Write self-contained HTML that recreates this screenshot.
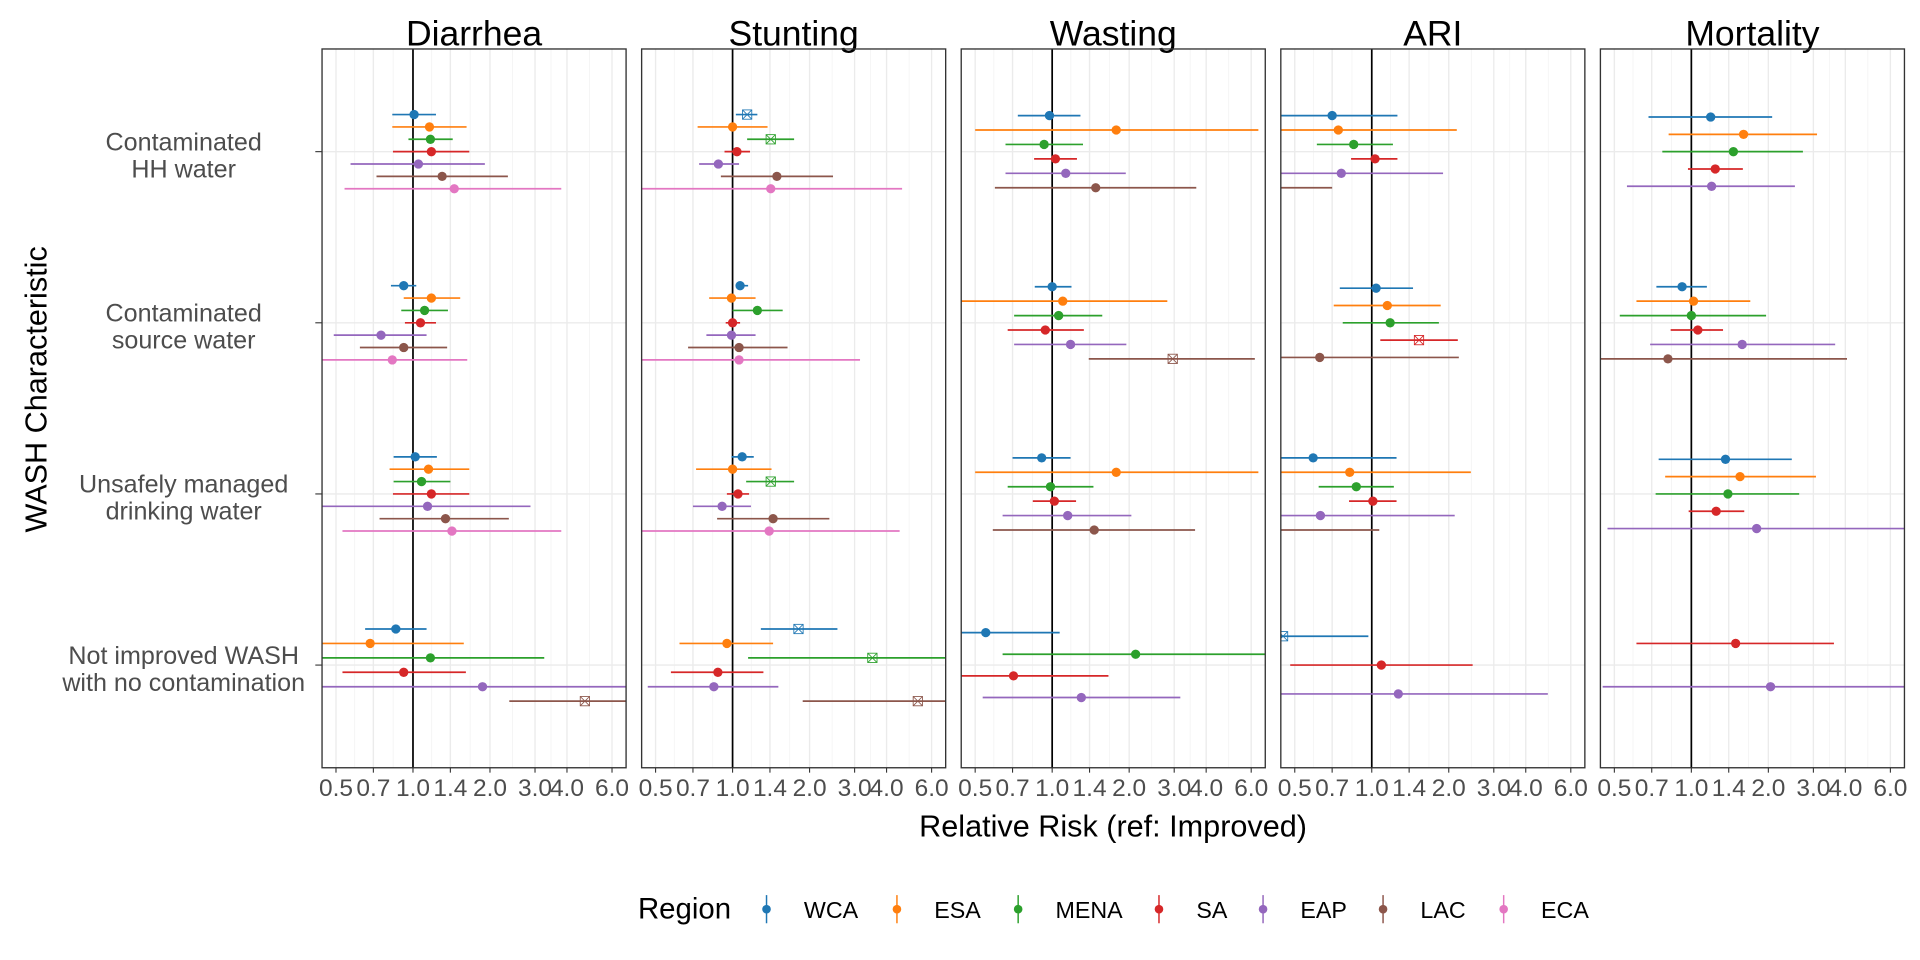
<!DOCTYPE html>
<html><head><meta charset="utf-8"><style>
html,body{margin:0;padding:0;background:#fff;}
svg{display:block;font-family:"Liberation Sans",Arial,sans-serif;}
</style></head><body>
<svg id="chart" width="1920" height="960" viewBox="0 0 1568 784" xmlns="http://www.w3.org/2000/svg">
<g id="layer"></g>
</svg>
<script>
const outcomes = ["Diarrhea","Stunting","Wasting","ARI","Mortality"];
const categories = [["Contaminated","HH water"],["Contaminated","source water"],["Unsafely managed","drinking water"],["Not improved WASH","with no contamination"]];
const regions = ["WCA","ESA","MENA","SA","EAP","LAC","ECA"];
const regionColors = ["#1F77B4","#FF7F0E","#2CA02C","#D62728","#9467BD","#8C564B","#E377C2"];
const tickValues = [0.5,0.7,1.0,1.4,2.0,3.0,4.0,6.0];
const tickLabels = ["0.5","0.7","1.0","1.4","2.0","3.0","4.0","6.0"];
// records: outcome index, category index, region index, estimate, lower, upper, significant flag
const recOutcome = [0,0,0,0,0,0,0, 0,0,0,0,0,0,0, 0,0,0,0,0,0,0, 0,0,0,0,0,0,
 1,1,1,1,1,1,1, 1,1,1,1,1,1,1, 1,1,1,1,1,1,1, 1,1,1,1,1,1,
 2,2,2,2,2,2, 2,2,2,2,2,2, 2,2,2,2,2,2, 2,2,2,2,
 3,3,3,3,3,3, 3,3,3,3,3, 3,3,3,3,3,3, 3,3,3,
 4,4,4,4,4, 4,4,4,4,4,4, 4,4,4,4,4, 4,4];
const recCat = [0,0,0,0,0,0,0, 1,1,1,1,1,1,1, 2,2,2,2,2,2,2, 3,3,3,3,3,3,
 0,0,0,0,0,0,0, 1,1,1,1,1,1,1, 2,2,2,2,2,2,2, 3,3,3,3,3,3,
 0,0,0,0,0,0, 1,1,1,1,1,1, 2,2,2,2,2,2, 3,3,3,3,
 0,0,0,0,0,0, 1,1,1,1,1, 2,2,2,2,2,2, 3,3,3,
 0,0,0,0,0, 1,1,1,1,1,1, 2,2,2,2,2, 3,3];
const recRegion = [0,1,2,3,4,5,6, 0,1,2,3,4,5,6, 0,1,2,3,4,5,6, 0,1,2,3,4,5,
 0,1,2,3,4,5,6, 0,1,2,3,4,5,6, 0,1,2,3,4,5,6, 0,1,2,3,4,5,
 0,1,2,3,4,5, 0,1,2,3,4,5, 0,1,2,3,4,5, 0,2,3,4,
 0,1,2,3,4,5, 0,1,2,3,5, 0,1,2,3,4,5, 0,3,4,
 0,1,2,3,4, 0,1,2,3,4,5, 0,1,2,3,4, 3,4];
const recEst = [1.01,1.16,1.17,1.18,1.05,1.30,1.45, 0.92,1.18,1.11,1.07,0.75,0.92,0.83, 1.02,1.15,1.08,1.18,1.14,1.34,1.42, 0.857,0.68,1.17,0.92,1.87,4.7,
 1.14,1.0,1.41,1.04,0.88,1.49,1.41, 1.07,0.99,1.25,1.0,0.99,1.06,1.06, 1.09,1.0,1.41,1.05,0.91,1.44,1.39, 1.81,0.95,3.52,0.876,0.845,5.3,
 0.976,1.78,0.93,1.03,1.13,1.48, 1.0,1.10,1.06,0.94,1.18,2.96, 0.91,1.78,0.985,1.02,1.15,1.46, 0.55,2.12,0.706,1.30,
 0.70,0.74,0.85,1.03,0.76,0.38, 1.04,1.15,1.18,1.53,0.626, 0.59,0.82,0.87,1.01,0.63,0.38, 0.45,1.09,1.27,
 1.19,1.60,1.46,1.24,1.20, 0.92,1.02,1.0,1.06,1.58,0.81, 1.36,1.55,1.39,1.25,1.80, 1.49,2.04];
const recLo = [0.83,0.83,0.96,0.835,0.57,0.72,0.54, 0.82,0.92,0.90,0.93,0.49,0.62,0.40, 0.84,0.81,0.84,0.835,0.40,0.74,0.53, 0.65,0.40,0.40,0.53,0.40,2.38,
 1.03,0.73,1.14,0.93,0.74,0.90,0.40, 1.03,0.81,1.0,0.94,0.79,0.67,0.40, 0.99,0.72,1.13,0.95,0.70,0.87,0.40, 1.29,0.62,1.15,0.574,0.466,1.88,
 0.734,0.50,0.657,0.85,0.657,0.597, 0.855,0.40,0.71,0.67,0.71,1.39, 0.70,0.50,0.67,0.84,0.64,0.586, 0.40,0.64,0.40,0.535,
 0.40,0.40,0.61,0.83,0.40,0.20, 0.75,0.71,0.77,1.08,0.40, 0.40,0.40,0.62,0.815,0.40,0.20, 0.30,0.48,0.40,
 0.68,0.815,0.77,0.97,0.56, 0.73,0.61,0.525,0.83,0.69,0.40, 0.745,0.79,0.725,0.976,0.47, 0.61,0.45];
const recHi = [1.23,1.62,1.43,1.66,1.91,2.35,3.8, 1.03,1.53,1.37,1.23,1.13,1.36,1.63, 1.24,1.66,1.40,1.66,2.88,2.37,3.8, 1.13,1.58,3.26,1.61,8,8,
 1.25,1.37,1.74,1.17,1.06,2.47,4.6, 1.15,1.23,1.57,1.07,1.23,1.64,3.15, 1.21,1.42,1.74,1.16,1.18,2.39,4.5, 2.57,1.44,8,1.32,1.51,8,
 1.29,6.4,1.32,1.25,1.94,3.66, 1.19,2.82,1.57,1.33,1.95,6.2, 1.18,6.4,1.45,1.24,2.04,3.62, 1.07,8,1.66,3.17,
 1.26,2.15,1.21,1.26,1.90,0.70, 1.45,1.86,1.83,2.17,2.19, 1.25,2.44,1.22,1.25,2.11,1.07, 0.97,2.48,4.88,
 2.07,3.10,2.73,1.59,2.54, 1.15,1.70,1.96,1.33,3.65,4.06, 2.47,3.07,2.64,1.61,8, 3.61,8];
const recSig = [0,0,0,0,0,0,0, 0,0,0,0,0,0,0, 0,0,0,0,0,0,0, 0,0,0,0,0,1,
 1,0,1,0,0,0,0, 0,0,0,0,0,0,0, 0,0,1,0,0,0,0, 1,0,1,0,0,1,
 0,0,0,0,0,0, 0,0,0,0,0,1, 0,0,0,0,0,0, 0,0,0,0,
 0,0,0,0,0,0, 0,0,0,1,0, 0,0,0,0,0,0, 1,0,0,
 0,0,0,0,0, 0,0,0,0,0,0, 0,0,0,0,0, 0,0];

const NS="http://www.w3.org/2000/svg";
const layer=document.getElementById('layer');
function mk(tag,attrs,parent){const e=document.createElementNS(NS,tag);for(const k in attrs)e.setAttribute(k,attrs[k]);(parent||layer).appendChild(e);return e;}

const P0=263, PSTEP=261, PW=248.3, TOP=40, BOT=627;
const DMIN=Math.log(0.441), DMAX=Math.log(6.81);
const catStep=(BOT-TOP)/4.2;
function xScale(k,v){return P0+k*PSTEP+(Math.log(v)-DMIN)/(DMAX-DMIN)*PW;}
function yScale(c){return TOP+(0.6+c)*catStep;}
const DODGE=70.7;

const defs=mk('defs',{});
outcomes.forEach((o,k)=>{
  const cp=mk('clipPath',{id:'clip'+k},defs);
  mk('rect',{x:P0+k*PSTEP,y:TOP,width:PW,height:BOT-TOP},cp);
});

outcomes.forEach((o,k)=>{
  const L=P0+k*PSTEP;
  const g=mk('g',{});
  
  
  for(let i=0;i<tickValues.length-1;i++){
    const mv=Math.sqrt(tickValues[i]*tickValues[i+1]);
    const x=xScale(k,mv);
    const ln=mk('line',{x1:x,x2:x,y1:TOP,y2:BOT,stroke:'#F2F2F2','stroke-width':0.6},g);
    
    
  }
  tickValues.forEach((t,i)=>{
    const x=xScale(k,t);
    const ln=mk('line',{x1:x,x2:x,y1:TOP,y2:BOT,stroke:'#EBEBEB','stroke-width':1.1},g);
    
    
    const tk=mk('line',{x1:x,x2:x,y1:BOT,y2:BOT+4,stroke:'#333','stroke-width':0.9},g);
    
    
    const tl=mk('text',{x:x,y:BOT+23,'text-anchor':'middle','font-size':20,fill:'#4D4D4D'},g);
    
    
    tl.textContent=tickLabels[i];
  });
  categories.forEach((c,ci)=>{
    const y=yScale(ci);
    const ln=mk('line',{x1:L,x2:L+PW,y1:y,y2:y,stroke:'#EBEBEB','stroke-width':1.1},g);
    
    
  });
  const x1=xScale(k,1);
  const ref=mk('line',{x1:x1,x2:x1,y1:TOP,y2:BOT,stroke:'#000','stroke-width':1.4},g);
  
  
  const st=mk('text',{x:L+PW/2,y:TOP-3,'text-anchor':'middle','font-size':29,fill:'#000'},g);
  
  
  st.textContent=o;
  const mg=mk('g',{'clip-path':'url(#clip'+k+')'},g);
  
  
  for(let r=0;r<recOutcome.length;r++){
    if(recOutcome[r]!==k) continue;
    const ci=recCat[r];
    const same=[];
    for(let q=0;q<recOutcome.length;q++) if(recOutcome[q]===k&&recCat[q]===ci) same.push(recRegion[q]);
    same.sort((a,b)=>a-b);
    const n=same.length, j=same.indexOf(recRegion[r]);
    const y=yScale(ci)+(j-(n-1)/2)*DODGE/n;
    const col=regionColors[recRegion[r]];
    const eb=mk('line',{x1:xScale(k,recLo[r]),x2:xScale(k,recHi[r]),y1:y,y2:y,stroke:col,'stroke-width':1.4},mg);
    
    
    const px=xScale(k,recEst[r]);
    if(recSig[r]){
      const s=3.8;
      const pg=mk('g',{stroke:col,'stroke-width':0.7,fill:'none'},mg);
      
      
      mk('rect',{x:px-s,y:y-s,width:2*s,height:2*s},pg);
      mk('line',{x1:px-s,y1:y-s,x2:px+s,y2:y+s},pg);
      mk('line',{x1:px-s,y1:y+s,x2:px+s,y2:y-s},pg);
    } else {
      const pt=mk('circle',{cx:px,cy:y,r:3.8,fill:col},mg);
      
      
    }
  }
  const bd=mk('rect',{x:L,y:TOP,width:PW,height:BOT-TOP,fill:'none',stroke:'#333','stroke-width':1.1},g);
  
  
});

categories.forEach((c,ci)=>{
  const y=yScale(ci);
  const tk=mk('line',{x1:257.5,x2:263,y1:y,y2:y,stroke:'#333','stroke-width':0.9});
  
  
  const t=mk('text',{x:150,y:y-1,'text-anchor':'middle','font-size':20.5,fill:'#4D4D4D'});
  
  
  const a=mk('tspan',{x:150,dy:0},t); a.textContent=c[0];
  const b=mk('tspan',{x:150,dy:22},t); b.textContent=c[1];
});

const yt=mk('text',{x:0,y:0,transform:'translate(38,318) rotate(-90)','text-anchor':'middle','font-size':25,fill:'#000'});


yt.textContent='WASH Characteristic';
const xt=mk('text',{x:909,y:683,'text-anchor':'middle','font-size':25,fill:'#000'});


xt.textContent='Relative Risk (ref: Improved)';

const legKeyX=[626,732.5,831.5,946.5,1031.5,1129.5,1228];
const lg=mk('g',{});


const lt=mk('text',{x:521,y:750,'font-size':24,fill:'#000'},lg);


lt.textContent='Region';
regions.forEach((r,i)=>{
  const e=mk('g',{},lg);
  
  
  const x=legKeyX[i];
  mk('line',{x1:x,x2:x,y1:731,y2:754,stroke:regionColors[i],'stroke-width':1.2},e);
  mk('circle',{cx:x,cy:742.5,r:3.5,fill:regionColors[i]},e);
  const t=mk('text',{x:x+30.5,y:749.5,'font-size':19,fill:'#000'},e);
  t.textContent=r;
});
</script>
</body></html>
